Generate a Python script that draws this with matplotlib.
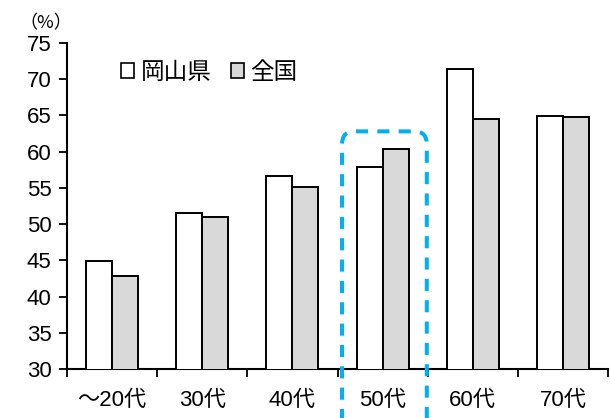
import numpy as np
from matplotlib import pyplot as plt
from matplotlib.patches import Patch, FancyBboxPatch

plt.rcParams['font.family'] = ['Liberation Sans', 'Noto Sans CJK JP']

categories = ['～20代', '30代', '40代', '50代', '60代', '70代']
okayama = [44.9, 51.5, 56.7, 57.9, 71.4, 64.9]
zenkoku = [42.8, 51.0, 55.1, 60.4, 64.5, 64.8]
series_names = ['岡山県', '全国']
highlight = 3  # 50代

fig = plt.figure(figsize=(6.1, 4.18), dpi=100)
ax = fig.add_axes([0.1098, 0.1172, 0.887, 0.78])

x = np.arange(len(categories))
w = 0.288
ax.bar(x - w / 2, okayama, w, bottom=0, color='white', edgecolor='black', linewidth=1.4, zorder=3)
ax.bar(x + w / 2, zenkoku, w, bottom=0, color='#d9d9d9', edgecolor='black', linewidth=1.4, zorder=3)

ax.set_xlim(-0.5, len(categories) - 0.5)
ax.set_ylim(30, 75)
ax.set_yticks(np.arange(30, 76, 5))
ax.set_xticks(x)
ax.set_xticklabels(categories)
ax.set_xticks(np.arange(-0.5, len(categories), 1), minor=True)
ax.tick_params(axis='x', which='major', length=0, pad=15, labelsize=16)
ax.tick_params(axis='x', which='minor', length=6, width=1.3, direction='out')
ax.tick_params(axis='y', length=6, width=1.3, labelsize=16, pad=5)

for s in ['top', 'right']:
    ax.spines[s].set_visible(False)
for s in ['left', 'bottom']:
    ax.spines[s].set_linewidth(1.5)

ax.text(-0.04, 1.06, '（%）', transform=ax.transAxes, fontsize=13,
        ha='center', va='center', family='Noto Sans CJK JP')

handles = [Patch(facecolor='white', edgecolor='black', linewidth=1.2),
           Patch(facecolor='#d9d9d9', edgecolor='black', linewidth=1.2)]
ax.legend(handles, series_names, loc='upper left', bbox_to_anchor=(0.06, 1.01),
          ncol=2, frameon=False, handlelength=0.55, handleheight=0.6,
          handletextpad=0.3, columnspacing=0.8,
          prop={'family': 'Noto Sans CJK JP', 'size': 17})

# rounded dashed frame around the 50代 group
fig.canvas.draw()
p0 = ax.transData.transform((0, 0))
p1 = ax.transData.transform((1, 1))
aspect = (p1[0] - p0[0]) / (p1[1] - p0[1])
box = FancyBboxPatch((highlight - 0.45, 20), 0.94, 62.8 - 20,
                     boxstyle='round,pad=0,rounding_size=0.14',
                     mutation_aspect=aspect, fill=False, edgecolor='#00b0f0',
                     linewidth=2.9, linestyle=(0, (3, 2.3)), clip_on=False, zorder=5)
ax.add_patch(box)

plt.savefig('out.png', dpi=100)
